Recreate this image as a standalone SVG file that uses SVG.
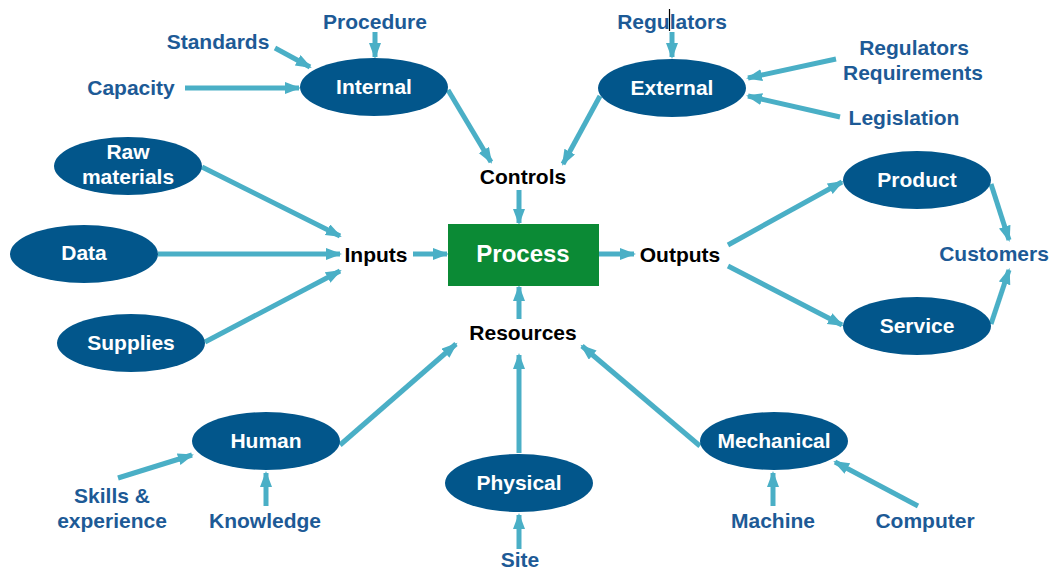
<svg xmlns="http://www.w3.org/2000/svg" width="1054" height="571" viewBox="0 0 1054 571">
<defs>
<marker id="ah" markerUnits="userSpaceOnUse" markerWidth="18" markerHeight="14" refX="14" refY="6" orient="auto">
<path d="M0,0 L16,6 L0,12 z" fill="#4AAFC6"/>
</marker>
<style>
.n ellipse{fill:#02568B}
.n text{fill:#fff;font-family:"Liberation Sans",Arial,sans-serif;font-weight:bold;font-size:21px;text-anchor:middle}
.lb{fill:#1D5A96;font-family:"Liberation Sans",Arial,sans-serif;font-weight:bold;font-size:21px;text-anchor:middle}
.hb{fill:#000;font-family:"Liberation Sans",Arial,sans-serif;font-weight:bold;font-size:21px;text-anchor:middle}
#connectors line{stroke:#4AAFC6;stroke-width:5;marker-end:url(#ah)}
</style>
</defs>
<rect width="1054" height="571" fill="#fff"/>

<g id="connectors">
<line x1="275" y1="48" x2="310" y2="67"/>
<line x1="375" y1="32" x2="375" y2="57"/>
<line x1="185" y1="88" x2="299" y2="88"/>
<line x1="448" y1="90" x2="491" y2="162"/>
<line x1="600" y1="96" x2="563" y2="164"/>
<line x1="672" y1="32" x2="672" y2="57"/>
<line x1="836" y1="59" x2="748" y2="78"/>
<line x1="840" y1="117" x2="748" y2="96"/>
<line x1="519" y1="190" x2="519" y2="223"/>
<line x1="202" y1="167" x2="340" y2="236"/>
<line x1="158" y1="254" x2="340" y2="254"/>
<line x1="205" y1="342" x2="340" y2="271"/>
<line x1="413" y1="254" x2="447" y2="254"/>
<line x1="599" y1="254" x2="634" y2="254"/>
<line x1="728" y1="245" x2="842" y2="182"/>
<line x1="728" y1="266" x2="842" y2="325"/>
<line x1="991" y1="184" x2="1009" y2="240"/>
<line x1="991" y1="324" x2="1009" y2="270"/>
<line x1="519" y1="319" x2="519" y2="287"/>
<line x1="340" y1="445" x2="456" y2="344"/>
<line x1="519" y1="453" x2="519" y2="355"/>
<line x1="700" y1="446" x2="582" y2="346"/>
<line x1="118" y1="478" x2="192" y2="455"/>
<line x1="266" y1="506" x2="266" y2="473"/>
<line x1="519" y1="549" x2="519" y2="515"/>
<line x1="773" y1="506" x2="773" y2="473"/>
<line x1="918" y1="506" x2="835" y2="462"/>
</g>

<line x1="669.5" y1="9" x2="669.5" y2="31" stroke="#000" stroke-width="1.2"/>

<g id="process">
<rect x="448" y="224" width="151" height="62" fill="#0B8A35"/>
<text x="523" y="262" fill="#fff" font-family="Liberation Sans, Arial, sans-serif" font-weight="bold" font-size="24" text-anchor="middle">Process</text>
</g>

<g id="internal" class="n"><ellipse cx="374" cy="87" rx="74" ry="29"/><text x="374" y="94">Internal</text></g>
<g id="external" class="n"><ellipse cx="672" cy="88" rx="74" ry="29"/><text x="672" y="95">External</text></g>
<g id="raw" class="n"><ellipse cx="128" cy="166" rx="74" ry="29"/><text x="128" y="159">Raw</text><text x="128" y="184">materials</text></g>
<g id="data" class="n"><ellipse cx="84" cy="254" rx="74" ry="29"/><text x="84" y="260">Data</text></g>
<g id="supplies" class="n"><ellipse cx="131" cy="343" rx="74" ry="29"/><text x="131" y="350">Supplies</text></g>
<g id="product" class="n"><ellipse cx="917" cy="180" rx="74" ry="29"/><text x="917" y="187">Product</text></g>
<g id="service" class="n"><ellipse cx="917" cy="326" rx="74" ry="29"/><text x="917" y="333">Service</text></g>
<g id="human" class="n"><ellipse cx="266" cy="441" rx="74" ry="29"/><text x="266" y="448">Human</text></g>
<g id="physical" class="n"><ellipse cx="519" cy="483" rx="74" ry="29"/><text x="519" y="490">Physical</text></g>
<g id="mechanical" class="n"><ellipse cx="774" cy="441" rx="74" ry="29"/><text x="774" y="448">Mechanical</text></g>

<g id="hubs">
<text class="hb" x="523" y="184">Controls</text>
<text class="hb" x="376" y="262">Inputs</text>
<text class="hb" x="680" y="262">Outputs</text>
<text class="hb" x="523" y="340">Resources</text>
</g>

<g id="labels">
<text class="lb" x="375" y="29">Procedure</text>
<text class="lb" x="218" y="49">Standards</text>
<text class="lb" x="131" y="95">Capacity</text>
<text class="lb" x="672" y="29">Regulators</text>
<text class="lb" x="914" y="55">Regulators</text>
<text class="lb" x="913" y="80">Requirements</text>
<text class="lb" x="904" y="125">Legislation</text>
<text class="lb" x="994" y="261">Customers</text>
<text class="lb" x="112" y="503">Skills &amp;</text>
<text class="lb" x="112" y="528">experience</text>
<text class="lb" x="265" y="528">Knowledge</text>
<text class="lb" x="520" y="567">Site</text>
<text class="lb" x="773" y="528">Machine</text>
<text class="lb" x="925" y="528">Computer</text>
</g>
</svg>
